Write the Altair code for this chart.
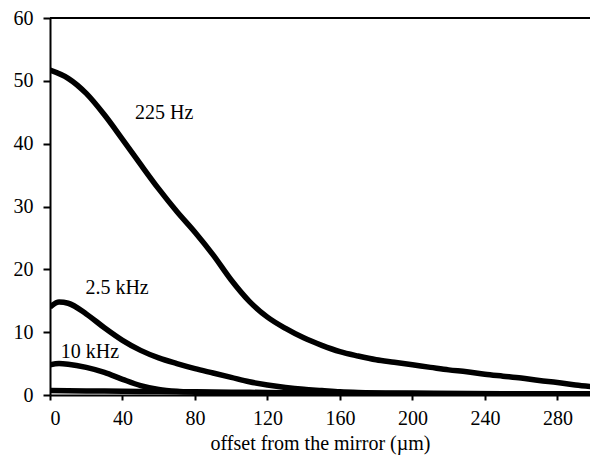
import altair as alt
import pandas as pd

# 225 Hz
x_225 = [0, 10, 20, 30, 40, 50, 60, 70, 80, 90, 100, 110, 120, 130, 140, 150,
         160, 170, 180, 190, 200, 210, 220, 230, 240, 250, 260, 270, 280, 290, 300]
y_225 = [51.7, 50.4, 48.0, 44.6, 40.7, 36.7, 32.8, 29.2, 25.9, 22.3, 18.3, 14.9,
         12.4, 10.6, 9.1, 7.9, 6.9, 6.2, 5.6, 5.2, 4.8, 4.4, 4.0, 3.7, 3.3, 3.0,
         2.7, 2.3, 2.0, 1.6, 1.3]

# 2.5 kHz
x_2k5 = [0, 5, 10, 20, 30, 40, 50, 60, 70, 80, 90, 100, 110, 120, 130, 140, 150,
         160, 170, 200, 250, 300]
y_2k5 = [14.0, 14.8, 14.6, 12.9, 10.7, 8.7, 7.1, 5.9, 5.0, 4.2, 3.5, 2.8, 2.1,
         1.6, 1.2, 0.9, 0.7, 0.5, 0.4, 0.3, 0.2, 0.2]

# 10 kHz
x_10k = [0, 5, 10, 20, 30, 40, 50, 60, 70, 80, 100, 150, 200, 250, 300]
y_10k = [4.8, 5.0, 4.9, 4.4, 3.6, 2.5, 1.5, 0.9, 0.6, 0.45, 0.3, 0.2, 0.15, 0.1, 0.1]

# lowest curve
x_low = [0, 20, 40, 60, 80, 100, 120, 140, 160, 180, 200, 220, 240, 260, 280, 300]
y_low = [0.7, 0.65, 0.6, 0.55, 0.5, 0.45, 0.4, 0.35, 0.3, 0.25, 0.2, 0.15, 0.1,
         0.05, 0.02, 0.0]

label_text = ["225 Hz", "2.5 kHz", "10 kHz"]
label_x = [63, 37, 22]
label_y = [44.9, 17.0, 6.8]

x_ticks = list(range(0, 300, 20))
y_ticks = [0, 10, 20, 30, 40, 50, 60]

rows = []
for name, xs, ys in [("225 Hz", x_225, y_225), ("2.5 kHz", x_2k5, y_2k5),
                     ("10 kHz", x_10k, y_10k), ("low", x_low, y_low)]:
    for a, b in zip(xs, ys):
        rows.append({"series": name, "x": a, "y": b})
df = pd.DataFrame(rows)
labels = pd.DataFrame({"text": label_text, "x": label_x, "y": label_y})

FONT = "Liberation Serif"

xscale = alt.Scale(domain=[0, 298], nice=False, zero=False)
yscale = alt.Scale(domain=[0, 60], nice=False)

lines = alt.Chart(df).mark_line(color="black", strokeWidth=5.5, clip=True,
                                interpolate="monotone").encode(
    x=alt.X("x:Q", scale=xscale,
            axis=alt.Axis(values=x_ticks, tickSize=5, labelPadding=8,
                          labelExpr="datum.value % 40 == 0 ? datum.label : ''",
                          title="offset from the mirror (µm)", titlePadding=5)),
    y=alt.Y("y:Q", scale=yscale,
            axis=alt.Axis(values=y_ticks, tickSize=7, labelPadding=10, title=None)),
    detail="series:N",
)

texts = alt.Chart(labels).mark_text(font=FONT, fontSize=20, color="black",
                                    align="center", baseline="middle").encode(
    x=alt.X("x:Q", scale=xscale),
    y=alt.Y("y:Q", scale=yscale),
    text="text:N",
)

top = alt.Chart(pd.DataFrame({"v": [60]})).mark_rule(color="black", strokeWidth=2).encode(
    y=alt.Y("v:Q", scale=yscale)
)

chart = alt.layer(lines, texts, top).properties(
    width=540, height=377,
    autosize=alt.AutoSizeParams(type="none"),
    padding={"left": 50, "top": 18, "right": 0, "bottom": 60},
).configure_view(stroke=None).configure_axis(
    grid=False,
    labelFont=FONT, labelFontSize=20, labelColor="black",
    titleFont=FONT, titleFontSize=20, titleColor="black", titleFontWeight="normal",
    domainColor="black", domainWidth=2, tickColor="black", tickWidth=2,
)

chart.save("out.html", embed_options={"renderer": "svg", "actions": False})
